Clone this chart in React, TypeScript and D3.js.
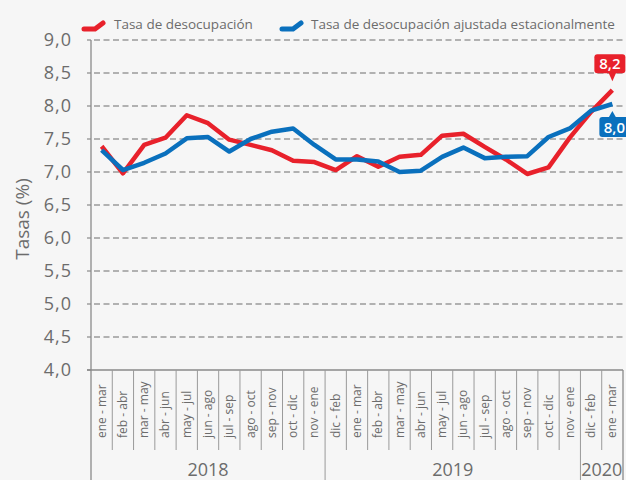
import React from 'react';
import * as d3 from 'd3';

const periods = [
  'ene - mar', 'feb - abr', 'mar - may', 'abr - jun', 'may - jul', 'jun - ago',
  'jul - sep', 'ago - oct', 'sep - nov', 'oct - dic', 'nov - ene',
  'dic - feb', 'ene - mar', 'feb - abr', 'mar - may', 'abr - jun', 'may - jul',
  'jun - ago', 'jul - sep', 'ago - oct', 'sep - nov', 'oct - dic', 'nov - ene',
  'dic - feb', 'ene - mar',
];
const yearLabels = ['2018', '2019', '2020'];
const yearCounts = [11, 12, 2];

const tasa = [
  7.39, 6.98, 7.41, 7.52, 7.86, 7.74, 7.49, 7.41, 7.33, 7.17, 7.15,
  7.03, 7.24, 7.08, 7.23, 7.26, 7.55, 7.58, 7.38, 7.19, 6.97, 7.07,
  7.52, 7.91, 8.24,
];
const tasaAjustada = [
  7.33, 7.03, 7.14, 7.28, 7.51, 7.53, 7.31, 7.5, 7.61, 7.66, 7.41,
  7.19, 7.19, 7.16, 7.0, 7.02, 7.23, 7.37, 7.21, 7.23, 7.24, 7.53,
  7.66, 7.93, 8.03,
];
const yTicks = [4, 4.5, 5, 5.5, 6, 6.5, 7, 7.5, 8, 8.5, 9];

const series = [
  { name: 'Tasa de desocupación', values: tasa, color: '#e8212b' },
  { name: 'Tasa de desocupación ajustada estacionalmente', values: tasaAjustada, color: '#0a70bd' },
];

const W = 626;
const H = 480;
const FONT = '"Open Sans", sans-serif';
const TEXT = '#6c6c6c';
const AXIS = '#8a8a8a';

const fmt = (v: number) => d3.format('.1f')(v).replace('.', ',');

export default function App() {
  const left = 91;
  const right = 623;
  const top = 40;
  const bottom = 370;

  const x = d3.scaleBand<number>().domain(d3.range(periods.length)).range([left, right]);
  const cx = (i: number) => (x(i) as number) + x.bandwidth() / 2;
  const y = d3.scaleLinear().domain([4, 9]).range([bottom, top]);

  const line = d3.line<number>().x((_, i) => cx(i)).y((d) => y(d));

  // year boundaries
  const bounds = [0];
  yearCounts.forEach((c) => bounds.push(bounds[bounds.length - 1] + c));
  const edge = (k: number) => (k < periods.length ? (x(k) as number) : right);

  const last = periods.length - 1;
  const redEnd = { x: cx(last), y: y(tasa[last]) };
  const blueEnd = { x: cx(last), y: y(tasaAjustada[last]) };

  return (
    <svg width={W} height={H} style={{ position: 'absolute', left: 0, top: 0 }} fontFamily={FONT}>
      <rect width={W} height={H} fill="#f6f6f6" />

      {/* legend */}
      <g>
        <path d="M84,29 L95,29 L103,23" fill="none" stroke={series[0].color} strokeWidth={5} strokeLinecap="round" strokeLinejoin="round" />
        <text x={114} y={29} fontSize={13.5} fill={TEXT}>{series[0].name}</text>
        <path d="M282,29 L293,29 L301,23" fill="none" stroke={series[1].color} strokeWidth={5} strokeLinecap="round" strokeLinejoin="round" />
        <text x={311} y={29} fontSize={13.5} fill={TEXT}>{series[1].name}</text>
      </g>

      {/* grid + y axis */}
      {yTicks.map((t) => (
        <g key={t}>
          {t > 4 && (
            <line x1={left + 3} x2={right} y1={y(t)} y2={y(t)} stroke="#9a9a9a" strokeWidth={1.3} strokeDasharray="6,3.5" />
          )}
          <line x1={left - 4} x2={left} y1={y(t)} y2={y(t)} stroke={AXIS} strokeWidth={1.2} />
          <text x={72} y={y(t)} dy="0.35em" textAnchor="end" fontSize={18} letterSpacing={1} fill={TEXT}>
            {fmt(t)}
          </text>
        </g>
      ))}
      <line x1={left} x2={left} y1={top} y2={H} stroke={AXIS} strokeWidth={1.3} />
      <line x1={left - 4} x2={right} y1={bottom} y2={bottom} stroke={AXIS} strokeWidth={1.5} />
      <line x1={right} x2={right} y1={bottom} y2={H} stroke={AXIS} strokeWidth={1.3} />
      <text transform={`translate(29,${219}) rotate(-90)`} textAnchor="middle" fontSize={19} fill={TEXT}>
        Tasas (%)
      </text>

      {/* category separators and labels */}
      {periods.map((p, i) => (
        <g key={i}>
          {i > 0 && !bounds.includes(i) && (
            <line x1={x(i)} x2={x(i)} y1={bottom} y2={450} stroke="#9a9a9a" strokeWidth={1} />
          )}
          <text
            transform={`translate(${cx(i) + 4},438) rotate(-90)`}
            fontSize={12}
            fill={TEXT}
          >
            {p}
          </text>
        </g>
      ))}
      {yearLabels.map((yl, k) => {
        const a = edge(bounds[k]);
        const b = edge(bounds[k + 1]);
        return (
          <g key={yl}>
            {k > 0 && <line x1={a} x2={a} y1={bottom} y2={H} stroke="#9a9a9a" strokeWidth={1} />}
            <text x={(a + b) / 2} y={476} textAnchor="middle" fontSize={18} fill={TEXT}>{yl}</text>
          </g>
        );
      })}

      {/* lines */}
      {series.map((s) => (
        <path key={s.name} d={line(s.values) as string} fill="none" stroke={s.color} strokeWidth={4.5} strokeLinejoin="round" />
      ))}

      {/* end labels */}
      <g>
        <rect x={redEnd.x - 18} y={redEnd.y - 36} width={31} height={19} rx={3} fill={series[0].color} />
        <path d={`M${redEnd.x - 4},${redEnd.y - 18} L${redEnd.x},${redEnd.y - 9} L${redEnd.x + 4},${redEnd.y - 18} Z`} fill={series[0].color} />
        <text x={redEnd.x - 2.5} y={redEnd.y - 21} textAnchor="middle" fontSize={15} fontWeight={600} fill="#fff">
          {fmt(tasa[last])}
        </text>
        <rect x={blueEnd.x - 13} y={blueEnd.y + 13} width={32} height={20} rx={3} fill={series[1].color} />
        <path d={`M${blueEnd.x - 4},${blueEnd.y + 14} L${blueEnd.x},${blueEnd.y + 7} L${blueEnd.x + 4},${blueEnd.y + 14} Z`} fill={series[1].color} />
        <text x={blueEnd.x + 2} y={blueEnd.y + 29} textAnchor="middle" fontSize={15} fontWeight={600} fill="#fff">
          {fmt(tasaAjustada[last])}
        </text>
      </g>
    </svg>
  );
}
